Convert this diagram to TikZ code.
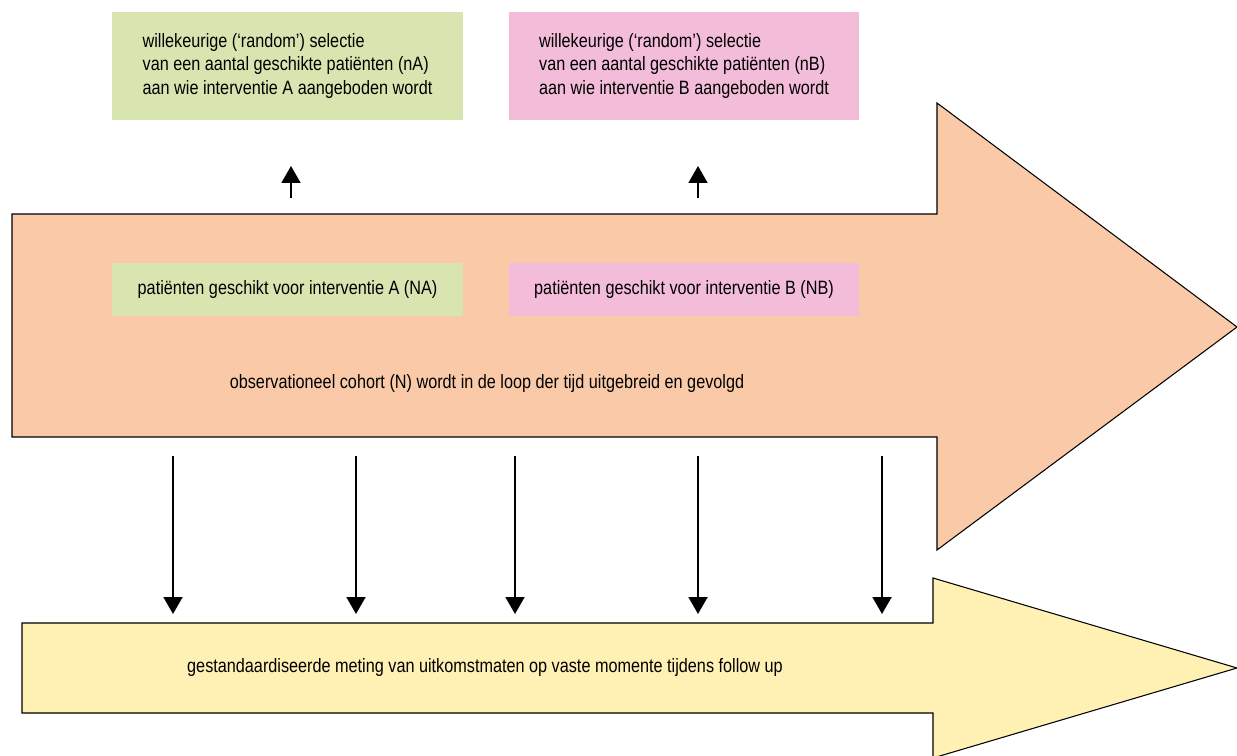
\documentclass[tikz,border=0pt]{standalone}
\usepackage{fontspec}
\setmainfont{Liberation Sans}[FakeStretch=0.84]
\usetikzlibrary{arrows.meta}

\definecolor{cohortorange}{RGB}{250,202,168}
\definecolor{followyellow}{RGB}{255,240,180}
\definecolor{armgreen}{RGB}{217,229,176}
\definecolor{armpink}{RGB}{243,189,218}

\tikzset{
  selbox/.style={minimum width=7.02cm, minimum height=2.16cm, inner sep=0pt, align=left, font=\fontsize{11}{13.2}\selectfont},
  poolbox/.style={minimum width=7.02cm, minimum height=1.06cm, inner sep=0pt, font=\fontsize{11}{13.2}\selectfont},
  plain/.style={font=\fontsize{11}{13.2}\selectfont},
  flow/.style={line width=1.1pt, ->},
}

\begin{document}
\begin{tikzpicture}[line cap=butt,line join=miter,>={Triangle[width=0.38cm,length=0.34cm]},x=0.02cm,y=-0.02cm]
\useasboundingbox (0,0) rectangle (1237,756);
% big arrows
\draw [fill=cohortorange, line width=0.6pt] (12,214) -- (937,214) -- (937,103) -- (1237,327) -- (937,550) -- (937,437) -- (12,437) -- cycle;
\draw [fill=followyellow, line width=0.6pt] (22,623) -- (933,623) -- (933,578) -- (1237,668) -- (933,758) -- (933,713) -- (22,713) -- cycle;
% boxes
\node [selbox, fill=armgreen] (selA) at (287.5,66) {willekeurige (‘random’) selectie\\van een aantal geschikte patiënten (nA)\\aan wie interventie A aangeboden wordt};
\node [selbox, fill=armpink] (selB) at (684,66) {willekeurige (‘random’) selectie\\van een aantal geschikte patiënten (nB)\\aan wie interventie B aangeboden wordt};
\node [poolbox, fill=armgreen] (poolA) at (287.5,289.5) {patiënten geschikt voor interventie A (NA)};
\node [poolbox, fill=armpink] (poolB) at (684,289.5) {patiënten geschikt voor interventie B (NB)};
\node [plain] (cohort) at (487,384) {observationeel cohort (N) wordt in de loop der tijd uitgebreid en gevolgd};
\node [plain] (follow) at (485,668) {gestandaardiseerde meting van uitkomstmaten op vaste momente tijdens follow up};
% arrows up
\coordinate (upA) at (291,198);
\coordinate (upAend) at (291,166);
\coordinate (upB) at (698,198);
\coordinate (upBend) at (698,166);
\draw [flow] (upA) -- (upAend);
\draw [flow] (upB) -- (upBend);
% arrows down
\foreach \x [count=\i] in {173,356,515,698,882} {
  \coordinate (m\i) at (\x,456);
  \coordinate (f\i) at (\x,614);
  \draw [flow] (m\i) -- (f\i);
}
\end{tikzpicture}
\end{document}
